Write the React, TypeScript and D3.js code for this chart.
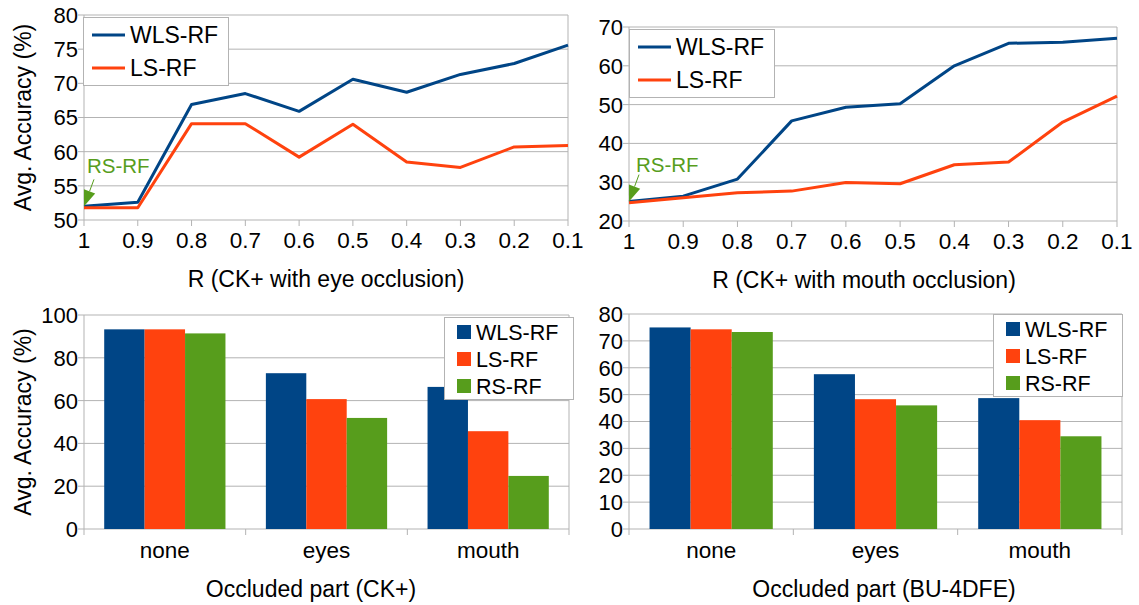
import * as React from "react";
import { scaleLinear, scalePoint, scaleBand, line } from "d3";

const rValues = ["1", "0.9", "0.8", "0.7", "0.6", "0.5", "0.4", "0.3", "0.2", "0.1"];
const eyeWLS = [52.0, 52.6, 66.9, 68.5, 65.9, 70.6, 68.7, 71.3, 72.9, 75.6];
const eyeLS = [51.8, 51.8, 64.1, 64.1, 59.2, 64.0, 58.5, 57.7, 60.7, 60.9];
const mouthWLS = [25.0, 26.4, 30.8, 45.8, 49.3, 50.2, 60.0, 65.8, 66.1, 67.1];
const mouthLS = [24.7, 26.0, 27.3, 27.7, 29.9, 29.6, 34.5, 35.2, 45.5, 52.2];
const rsEye = 52.0; // RS-RF only at R = 1
const rsMouth = 25.0;

const parts = ["none", "eyes", "mouth"];
const ckWLS = [93.3, 72.8, 66.4];
const ckLS = [93.3, 60.7, 45.7];
const ckRS = [91.4, 51.9, 24.8];
const buWLS = [75.0, 57.6, 48.7];
const buLS = [74.3, 48.3, 40.5];
const buRS = [73.3, 46.0, 34.5];

const eyeTicks = [50, 55, 60, 65, 70, 75, 80];
const mouthTicks = [20, 30, 40, 50, 60, 70];
const ckTicks = [0, 20, 40, 60, 80, 100];
const buTicks = [0, 10, 20, 30, 40, 50, 60, 70, 80];

const series = ["WLS-RF", "LS-RF", "RS-RF"];
const colors: Record<string, string> = { "WLS-RF": "#004586", "LS-RF": "#ff420e", "RS-RF": "#579d1c" };
const grid = "#b3b3b3";
const font = "'Liberation Sans', Arial, sans-serif";

interface Box { x0: number; x1: number; y0: number; y1: number }

const YTicks: React.FC<{ ticks: number[]; y: (v: number) => number; x0: number; x1: number }> = ({ ticks, y, x0, x1 }) => (
  <g>
    {ticks.map(t => (
      <g key={t}>
        <line x1={x0 - 6} x2={x1} y1={y(t)} y2={y(t)} stroke={grid} strokeWidth={1} />
        <text x={x0 - 6} y={y(t)} dy="0.36em" textAnchor="end" fontSize={22}>{t}</text>
      </g>
    ))}
  </g>
);

interface LineProps {
  box: Box; domain: [number, number]; ticks: number[];
  wls: number[]; ls: number[]; rs: number; title: string; titleX: number;
  yTitle?: boolean; legend: { x: number; y: number };
  note: { dx: number; dy: number };
}

const LineChart: React.FC<LineProps> = ({ box, domain, ticks, wls, ls, rs, title, titleX, yTitle, legend, note }) => {
  const x = scalePoint<string>().domain(rValues).range([box.x0, box.x1]);
  const y = scaleLinear().domain(domain).range([box.y1, box.y0]);
  const path = line<number>().x((_, i) => x(rValues[i]) as number).y(d => y(d));
  const tipX = x("1") as number, tipY = y(rs);
  // arrow from label down to the RS-RF point
  const sx = tipX + 10, sy = tipY - 27;
  const len = Math.hypot(tipX - sx, tipY - sy);
  const ux = (tipX - sx) / len, uy = (tipY - sy) / len;
  const bx = tipX - ux * 16, by = tipY - uy * 16;
  const head = `M${tipX},${tipY}L${bx + uy * 6},${by - ux * 6}L${bx - uy * 6},${by + ux * 6}Z`;
  return (
    <g>
      <YTicks ticks={ticks} y={y} x0={box.x0} x1={box.x1} />
      <line x1={box.x0} x2={box.x0} y1={box.y0} y2={box.y1} stroke={grid} />
      <line x1={box.x1} x2={box.x1} y1={box.y0} y2={box.y1} stroke={grid} />
      {rValues.map(r => (
        <g key={r}>
          <line x1={x(r)} x2={x(r)} y1={box.y1} y2={box.y1 + 6} stroke={grid} />
          <text x={x(r)} y={box.y1 + 28} textAnchor="middle" fontSize={22.5}>{r}</text>
        </g>
      ))}
      <path d={path(wls) as string} fill="none" stroke={colors["WLS-RF"]} strokeWidth={3} strokeLinejoin="round" />
      <path d={path(ls) as string} fill="none" stroke={colors["LS-RF"]} strokeWidth={3} strokeLinejoin="round" />
      <line x1={sx} y1={sy} x2={bx} y2={by} stroke={colors["RS-RF"]} strokeWidth={1} />
      <path d={head} fill={colors["RS-RF"]} />
      <text x={tipX + note.dx} y={tipY + note.dy} fontSize={20.5} fill={colors["RS-RF"]}>RS-RF</text>
      <g transform={`translate(${legend.x},${legend.y})`}>
        <rect x={0.5} y={0.5} width={145} height={68} fill="#fff" stroke={grid} />
        {["WLS-RF", "LS-RF"].map((s, i) => (
          <g key={s} transform={`translate(0,${18 + i * 33})`}>
            <line x1={9} x2={42} y1={0} y2={0} stroke={colors[s]} strokeWidth={3} />
            <text x={47} y={0} dy="0.36em" fontSize={23}>{s}</text>
          </g>
        ))}
      </g>
      <text x={titleX} y={box.y1 + 67} textAnchor="middle" fontSize={23}>{title}</text>
      {yTitle && (
        <text transform={`translate(31,${(box.y0 + box.y1) / 2}) rotate(-90)`} textAnchor="middle" fontSize={23}>Avg. Accuracy (%)</text>
      )}
    </g>
  );
};

interface BarProps {
  box: Box; max: number; ticks: number[]; values: number[][];
  title: string; titleX: number; yTitle?: boolean;
  legend: { x: number; y: number; w: number };
}

const BarChart: React.FC<BarProps> = ({ box, max, ticks, values, title, titleX, yTitle, legend }) => {
  const x = scaleBand<string>().domain(parts).range([box.x0, box.x1]);
  const bw = x.bandwidth();
  const inner = scaleBand<string>().domain(series).range([bw * 0.125, bw * 0.875]);
  const y = scaleLinear().domain([0, max]).range([box.y1, box.y0]);
  return (
    <g>
      <YTicks ticks={ticks} y={y} x0={box.x0} x1={box.x1} />
      <line x1={box.x1} x2={box.x1} y1={box.y0} y2={box.y1} stroke={grid} />
      {series.map((s, si) => (
        <g key={s}>
          {parts.map((p, pi) => (
            <rect key={p} x={(x(p) as number) + (inner(s) as number)} width={inner.bandwidth()}
              y={y(values[si][pi])} height={y(0) - y(values[si][pi])} fill={colors[s]} />
          ))}
        </g>
      ))}
      <line x1={box.x0} x2={box.x0} y1={box.y0} y2={box.y1 + 6} stroke={grid} />
      {parts.map(p => (
        <g key={p}>
          <line x1={(x(p) as number) + bw} x2={(x(p) as number) + bw} y1={box.y1} y2={box.y1 + 6} stroke={grid} />
          <text x={(x(p) as number) + bw / 2} y={box.y1 + 29} textAnchor="middle" fontSize={22.5}>{p}</text>
        </g>
      ))}
      <g transform={`translate(${legend.x},${legend.y})`}>
        <rect x={0.5} y={0.5} width={legend.w} height={82} fill="#fff" stroke={grid} />
        {series.map((s, i) => (
          <g key={s} transform={`translate(0,${15 + i * 27})`}>
            <rect x={13} y={-7} width={14} height={14} fill={colors[s]} />
            <text x={32} y={0} dy="0.36em" fontSize={21.5}>{s}</text>
          </g>
        ))}
      </g>
      <text x={titleX} y={box.y1 + 68} textAnchor="middle" fontSize={23}>{title}</text>
      {yTitle && (
        <text transform={`translate(31,${(box.y0 + box.y1) / 2}) rotate(-90)`} textAnchor="middle" fontSize={23}>Avg. Accuracy (%)</text>
      )}
    </g>
  );
};

const App: React.FC = () => (
  <svg width={1139} height={605} style={{ position: "absolute", left: 0, top: 0, background: "#fff" }}
    fontFamily={font}>
    <LineChart box={{ x0: 84, x1: 568, y0: 15, y1: 220 }} domain={[50, 80]} ticks={eyeTicks}
      wls={eyeWLS} ls={eyeLS} rs={rsEye} title="R (CK+ with eye occlusion)" titleX={326} yTitle
      legend={{ x: 83, y: 17 }} note={{ dx: 3, dy: -33 }} />
    <LineChart box={{ x0: 629, x1: 1117, y0: 27, y1: 221 }} domain={[20, 70]} ticks={mouthTicks}
      wls={mouthWLS} ls={mouthLS} rs={rsMouth} title="R (CK+ with mouth occlusion)" titleX={864}
      legend={{ x: 629, y: 29 }} note={{ dx: 7, dy: -30 }} />
    <BarChart box={{ x0: 84, x1: 569, y0: 315, y1: 529 }} max={100} ticks={ckTicks}
      values={[ckWLS, ckLS, ckRS]} title="Occluded part (CK+)" titleX={311} yTitle
      legend={{ x: 444, y: 317, w: 129 }} />
    <BarChart box={{ x0: 629, x1: 1122, y0: 314, y1: 529 }} max={80} ticks={buTicks}
      values={[buWLS, buLS, buRS]} title="Occluded part (BU-4DFE)" titleX={884}
      legend={{ x: 993, y: 314, w: 129 }} />
  </svg>
);

export default App;
